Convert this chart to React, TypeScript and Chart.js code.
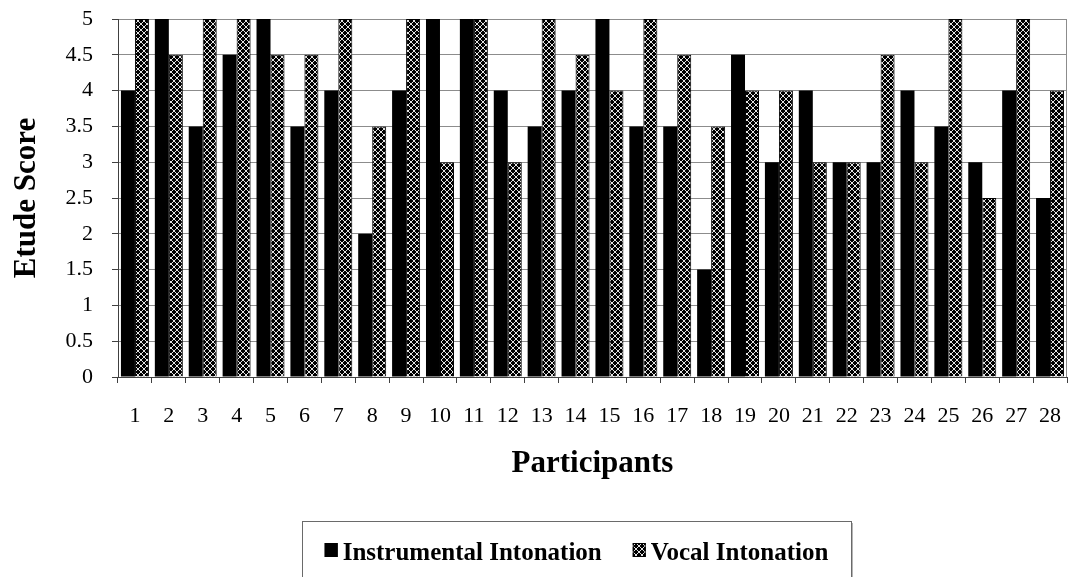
import { useEffect, useRef } from "react";
import { Chart, registerables } from "chart.js";

Chart.register(...registerables);

const participants = [
  "1", "2", "3", "4", "5", "6", "7", "8", "9", "10", "11", "12", "13", "14",
  "15", "16", "17", "18", "19", "20", "21", "22", "23", "24", "25", "26", "27", "28",
];
const instrumentalScores = [
  4, 5, 3.5, 4.5, 5, 3.5, 4, 2, 4, 5, 5, 4, 3.5, 4,
  5, 3.5, 3.5, 1.5, 4.5, 3, 4, 3, 3, 4, 3.5, 3, 4, 2.5,
];
const vocalScores = [
  5, 4.5, 5, 5, 4.5, 4.5, 5, 3.5, 5, 3, 5, 3, 5, 4.5,
  4, 5, 4.5, 3.5, 4, 4, 3, 3, 4.5, 3, 5, 2.5, 5, 4,
];
const seriesNames = ["Instrumental Intonation", "Vocal Intonation"];
const axisTitles = { x: "Participants", y: "Etude Score" };
const yMin = 0;
const yMax = 5;
const yStep = 0.5;

const SERIF = "'Liberation Serif', 'Times New Roman', serif";

// Black fill with a chain of small light rings, like a print hatch.
function makeRingPattern(): CanvasPattern | string {
  const c = document.createElement("canvas");
  c.width = 6;
  c.height = 6;
  const g = c.getContext("2d");
  if (!g) return "#555";
  g.fillStyle = "#000";
  g.fillRect(0, 0, 6, 6);
  g.fillStyle = "#e2e2e2";
  const rows = ["..LL..", ".L..L.", "L....L", "L....L", ".L..L.", "..LL.."];
  rows.forEach((row, y) =>
    row.split("").forEach((ch, x) => {
      if (ch === "L") g.fillRect(x, y, 1, 1);
    })
  );
  return g.createPattern(c, "repeat") || "#555";
}

const frameAndLegend = {
  id: "frameAndLegend",
  afterDraw(chart: any) {
    const { ctx, chartArea } = chart;
    ctx.save();
    // right edge of the plot frame
    ctx.strokeStyle = "#8c8c8c";
    ctx.lineWidth = 1;
    ctx.beginPath();
    ctx.moveTo(Math.round(chartArea.right) - 0.5, chartArea.top);
    ctx.lineTo(Math.round(chartArea.right) - 0.5, chartArea.bottom);
    ctx.stroke();

    // legend box
    const boxX = 302;
    const boxY = 521;
    const boxW = 549;
    const boxH = 62;
    ctx.fillStyle = "#fff";
    ctx.fillRect(boxX, boxY, boxW, boxH);
    ctx.strokeStyle = "#6a6a6a";
    ctx.strokeRect(boxX + 0.5, boxY + 0.5, boxW, boxH);
    ctx.strokeStyle = "#b4b4b4";
    ctx.beginPath();
    ctx.moveTo(boxX + boxW + 1.5, boxY + 2);
    ctx.lineTo(boxX + boxW + 1.5, boxY + boxH + 2);
    ctx.stroke();

    ctx.font = `bold 25px ${SERIF}`;
    ctx.textBaseline = "alphabetic";
    ctx.textAlign = "left";
    const marker = 13;
    const markerGap = 5;
    const itemGap = 31;
    const items = chart.data.datasets.map((ds: any) => ({
      label: ds.label,
      fill: ds.backgroundColor,
      width: ctx.measureText(ds.label).width,
    }));
    const total =
      items.reduce((s: number, it: any) => s + marker + markerGap + it.width, 0) +
      itemGap * (items.length - 1);
    let x = boxX + (boxW - total) / 2;
    const baseline = 560;
    items.forEach((it: any) => {
      ctx.fillStyle = it.fill;
      ctx.fillRect(x, baseline - 17, marker, marker + 1);
      ctx.strokeStyle = "#000";
      ctx.strokeRect(x + 0.5, baseline - 16.5, marker - 1, marker);
      ctx.fillStyle = "#000";
      ctx.fillText(it.label, x + marker + markerGap, baseline);
      x += marker + markerGap + it.width + itemGap;
    });
    ctx.restore();
  },
};

export default function App() {
  const canvasRef = useRef<HTMLCanvasElement | null>(null);

  useEffect(() => {
    const canvas = canvasRef.current;
    if (!canvas) return;
    const ringFill = makeRingPattern();
    const chart = new Chart(canvas, {
      type: "bar",
      data: {
        labels: participants,
        datasets: [
          {
            label: seriesNames[0],
            data: instrumentalScores,
            backgroundColor: "#000000",
            borderWidth: 0,
          },
          {
            label: seriesNames[1],
            data: vocalScores,
            backgroundColor: ringFill as any,
            borderColor: "#000000",
            borderWidth: 1,
          },
        ],
      },
      options: {
        animation: false,
        responsive: true,
        maintainAspectRatio: false,
        devicePixelRatio: 1,
        layout: { padding: { top: 19, right: 3, left: 0, bottom: 0 } },
        datasets: {
          bar: { categoryPercentage: 0.826, barPercentage: 1.0 },
        },
        plugins: {
          legend: { display: false },
          tooltip: { enabled: false },
          title: { display: false },
        },
        scales: {
          x: {
            type: "category",
            offset: true,
            grid: {
              display: true,
              drawOnChartArea: false,
              drawTicks: true,
              tickLength: 6,
              color: "#404040",
              offset: true,
            },
            border: { display: true, color: "#404040", width: 1 },
            ticks: {
              color: "#000",
              font: { family: SERIF, size: 22 },
              padding: 20,
              autoSkip: false,
              maxRotation: 0,
              minRotation: 0,
            },
            title: {
              display: true,
              text: axisTitles.x,
              color: "#000",
              font: { family: SERIF, size: 31, weight: "bold" },
              padding: { top: 0, bottom: 94 },
            },
            afterFit(scale: any) {
              scale.height = 200;
              scale.paddingLeft = 0;
              scale.paddingRight = 0;
            },
          },
          y: {
            type: "linear",
            min: yMin,
            max: yMax,
            ticks: {
              stepSize: yStep,
              color: "#000",
              font: { family: SERIF, size: 22 },
              padding: 19,
              callback: (v: any) => String(Number(v)),
            },
            grid: {
              color: "#8c8c8c",
              drawTicks: true,
              tickLength: 6,
              tickColor: "#404040",
            },
            border: { display: true, color: "#404040", width: 1 },
            title: {
              display: true,
              text: axisTitles.y,
              color: "#000",
              font: { family: SERIF, size: 31, weight: "bold" },
              padding: { top: 8, bottom: 0 },
            },
            afterFit(scale: any) {
              scale.width = 118;
              scale.paddingTop = 0;
              scale.paddingBottom = 0;
            },
          },
        },
      },
      plugins: [frameAndLegend],
    });
    return () => chart.destroy();
  }, []);

  return (
    <div
      style={{
        position: "absolute",
        left: 0,
        top: 0,
        width: 1070,
        height: 577,
        background: "#fff",
      }}
    >
      <canvas ref={canvasRef} />
    </div>
  );
}
